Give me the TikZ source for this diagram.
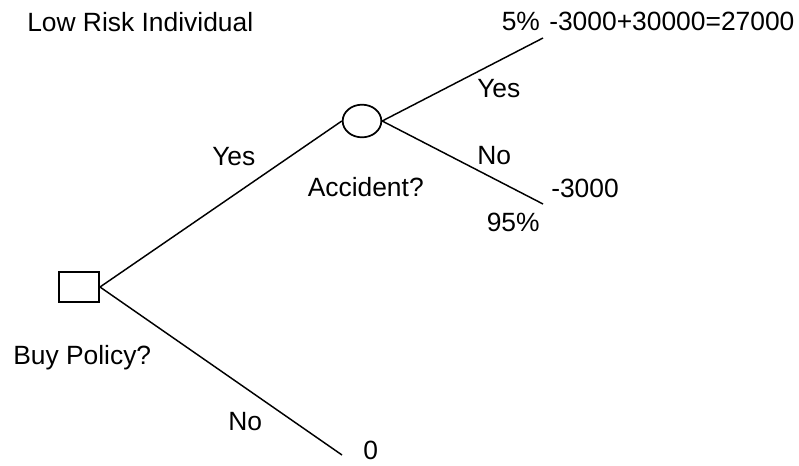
\documentclass[tikz,border=0pt]{standalone}
\usepackage{fontspec}
\setmainfont{Liberation Sans}
\usetikzlibrary{shapes.geometric,positioning}

\begin{document}
\begin{tikzpicture}[x=0.75pt,y=-0.75pt,
    lbl/.style={anchor=base west,inner sep=0pt,font=\fontsize{19.8}{23}\selectfont},
    branch/.style={line width=1.1pt}]
  \useasboundingbox (0,0) rectangle (799,465);
  % decision and chance nodes
  \node[draw,line width=1.5pt,minimum width=30pt,minimum height=22.5pt,inner sep=0pt] (buy) at (79,287) {};
  \node[draw,ellipse,line width=1.3pt,minimum width=29pt,minimum height=24.5pt,inner sep=0pt] (accident) at (362,121) {};
  \coordinate (payyes) at (543,38);
  \coordinate (payno) at (543,204);
  \coordinate (payzero) at (342,455);
  \draw[branch] (buy.east) -- (accident.west);
  \draw[branch] (buy.east) -- (payzero);
  \draw[branch] (accident.east) -- (payyes);
  \draw[branch] (accident.east) -- (payno);
  % labels
  \node[lbl] (title) at (27,31.7) {Low Risk Individual};
  \node[lbl] (pyes) at (501.5,30.7) {5\%};
  \node[lbl] (vyes) at (549,30.7) {-3000+30000=27000};
  \node[lbl] (yesacc) at (477,97.7) {Yes};
  \node[lbl] (noacc) at (477,164) {No};
  \node[lbl] (vno) at (551,197.7) {-3000};
  \node[lbl] (pno) at (486.5,231) {95\%};
  \node[lbl] (yesbuy) at (212,165) {Yes};
  \node[lbl] (acclbl) at (307.5,196.7) {Accident?};
  \node[lbl] (buylbl) at (13,364) {Buy Policy?};
  \node[lbl] (nobuy) at (228,430) {No};
  \node[lbl] (vzero) at (363,459) {0};
\end{tikzpicture}
\end{document}
